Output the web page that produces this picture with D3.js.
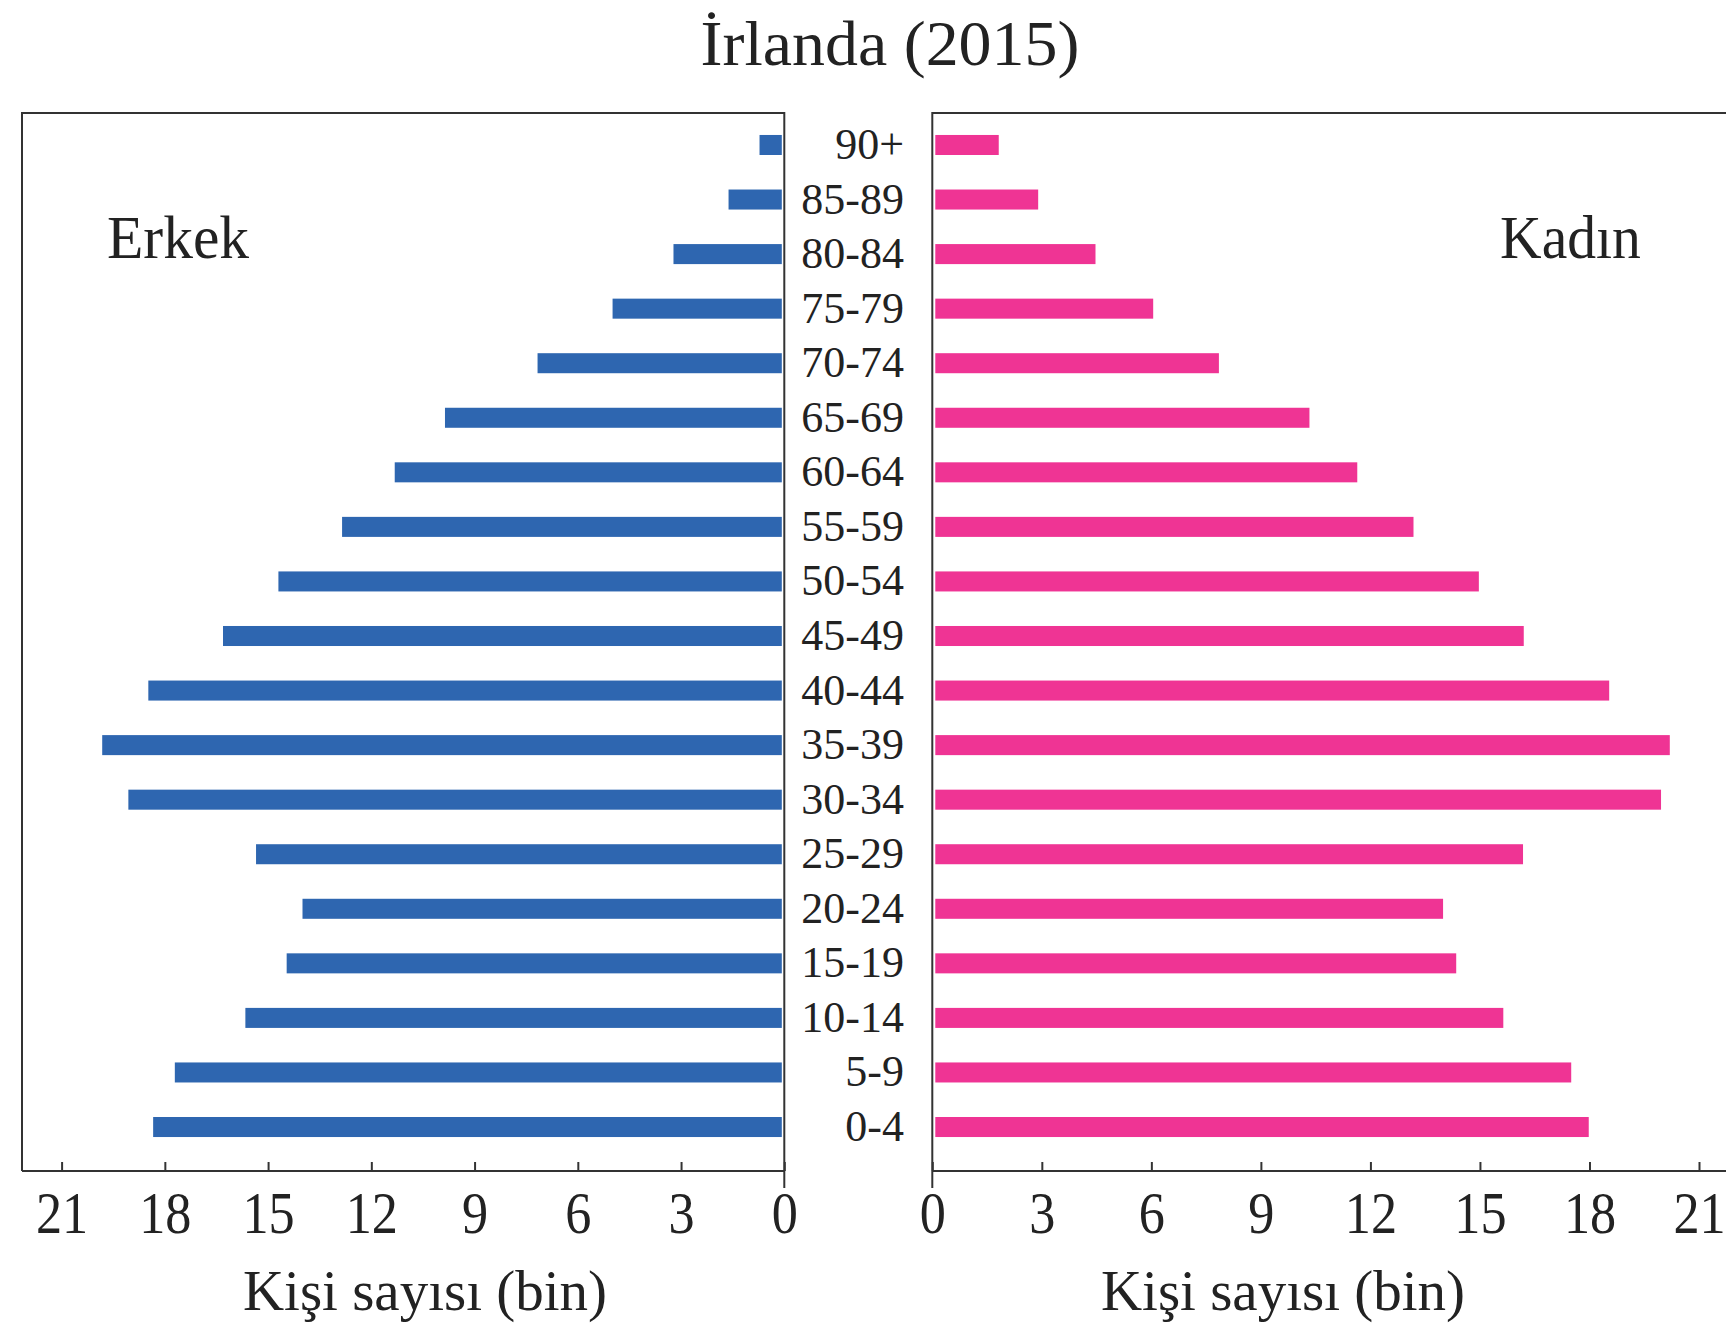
<!DOCTYPE html>
<html>
<head>
<meta charset="utf-8">
<script src="https://cdn.jsdelivr.net/npm/d3@7"></script>
<style>
  html, body { margin: 0; padding: 0; background: #fff; }
  svg { display: block; }
  text { font-family: "Liberation Serif", "DejaVu Serif", serif; fill: #222; }
</style>
</head>
<body>
<svg id="chart" width="1726" height="1328"></svg>
<script>
// ---- data ----
const ageGroups = ["90+","85-89","80-84","75-79","70-74","65-69","60-64","55-59","50-54","45-49",
                   "40-44","35-39","30-34","25-29","20-24","15-19","10-14","5-9","0-4"];
const maleValues   = [0.72,1.62,3.22,4.99,7.17,9.86,11.32,12.85,14.70,16.31,18.48,19.82,19.06,15.35,14.00,14.46,15.66,17.71,18.34];
const femaleValues = [1.82,2.90,4.47,6.05,7.85,10.33,11.64,13.18,14.97,16.20,18.54,20.20,19.96,16.18,13.99,14.35,15.64,17.50,17.98];
const tickValues = [0,3,6,9,12,15,18,21];
const titleText = "İrlanda (2015)";
const maleLabel = "Erkek";
const femaleLabel = "Kadın";
const axisTitle = "Kişi sayısı (bin)";

// ---- layout ----
const svg = d3.select("#chart");
const plotTop = 113, plotBottom = 1171;
const leftPanel = { x0: 22, x1: 784.3 };
const rightPanel = { x0: 932.3, x1: 1726 };

const xL = d3.scaleLinear().domain([0, 21]).range([784.3, 61.6]);
const xR = d3.scaleLinear().domain([0, 21]).range([932.3, 1699]);
const y = d3.scaleBand().domain(ageGroups)
  .range([117.7, 1154.3]).paddingInner(0.633).paddingOuter(0.3165);

const lineColor = "#333";
const maleColor = "#2e66b0";
const femaleColor = "#ef3494";

// bars
svg.append("g").selectAll("rect").data(ageGroups).join("rect")
  .attr("x", (d, i) => xL(maleValues[i]))
  .attr("y", d => y(d))
  .attr("width", (d, i) => xL(0) - 2.5 - xL(maleValues[i]))
  .attr("height", y.bandwidth())
  .attr("fill", maleColor);

svg.append("g").selectAll("rect").data(ageGroups).join("rect")
  .attr("x", xR(0) + 3)
  .attr("y", d => y(d))
  .attr("width", (d, i) => xR(femaleValues[i]) - xR(0) - 3)
  .attr("height", y.bandwidth())
  .attr("fill", femaleColor);

// panel frames
const frame = svg.append("g").attr("stroke", lineColor).attr("stroke-width", 2).attr("fill", "none");
frame.append("path").attr("d", `M${leftPanel.x0},${plotBottom} V${plotTop} H${leftPanel.x1} V${plotBottom + 17}`);
frame.append("path").attr("d", `M${rightPanel.x1},${plotTop} H${rightPanel.x0} V${plotBottom + 17}`);

// axes
function styleAxis(g) {
  g.selectAll(".domain").attr("stroke", lineColor).attr("stroke-width", 2);
  g.selectAll(".tick line").attr("stroke", lineColor).attr("stroke-width", 2);
  g.selectAll(".tick text")
    .attr("font-family", '"Liberation Serif", serif')
    .attr("font-size", 60).attr("fill", "#222")
    .attr("dy", null).attr("y", 62)
    .attr("transform", "scale(0.87,1)");
}
const axL = d3.axisBottom(xL).tickValues(tickValues).tickSizeInner(-9).tickSizeOuter(0).tickPadding(0);
const axR = d3.axisBottom(xR).tickValues(tickValues).tickSizeInner(-9).tickSizeOuter(0).tickPadding(0);
const gL = svg.append("g").attr("transform", `translate(0,${plotBottom})`).call(axL).call(styleAxis);
const gR = svg.append("g").attr("transform", `translate(0,${plotBottom})`).call(axR).call(styleAxis);
gL.select(".domain").attr("d", `M${leftPanel.x0},0H${leftPanel.x1}`);
gR.select(".domain").attr("d", `M${rightPanel.x0},0H${rightPanel.x1}`);

// age labels
svg.append("g").selectAll("text").data(ageGroups).join("text")
  .attr("x", 904)
  .attr("y", d => y(d) + y.bandwidth() / 2 + 14)
  .attr("text-anchor", "end")
  .attr("font-size", 44)
  .text(d => d);

// title & labels
svg.append("text").attr("transform", "translate(890,65) scale(1.03,1)").attr("text-anchor", "middle")
  .attr("font-size", 64).text(titleText);
svg.append("text").attr("transform", "translate(107,258) scale(0.96,1)").attr("font-size", 62).text(maleLabel);
svg.append("text").attr("transform", "translate(1500,258) scale(0.93,1)").attr("font-size", 62).text(femaleLabel);
svg.append("text").attr("x", 425).attr("y", 1310).attr("text-anchor", "middle")
  .attr("font-size", 57).text(axisTitle);
svg.append("text").attr("x", 1283).attr("y", 1310).attr("text-anchor", "middle")
  .attr("font-size", 57).text(axisTitle);
</script>
</body>
</html>
